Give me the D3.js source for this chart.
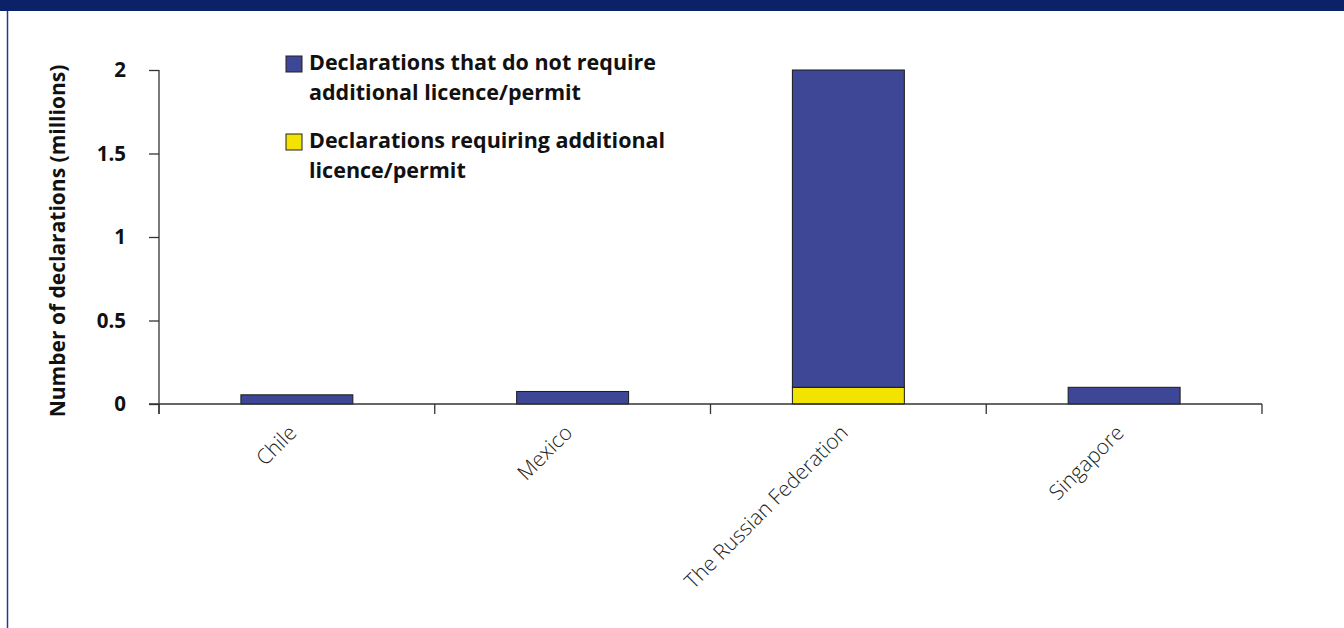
<!DOCTYPE html>
<html><head><meta charset="utf-8">
<script src="https://cdn.jsdelivr.net/npm/d3@7"></script>
<style>
html,body{margin:0;padding:0;background:#fff;}
svg{display:block;}
</style></head>
<body>
<svg id="chart" width="1344" height="628"></svg>
<script>
const categories = ["Chile", "Mexico", "The Russian Federation", "Singapore"];
const notRequiring = [0.055, 0.075, 1.9, 0.1];
const requiring = [0, 0, 0.1, 0];
const seriesNames = ["Declarations that do not require additional licence/permit", "Declarations requiring additional licence/permit"];
const yTicks = [0, 0.5, 1, 1.5, 2];
const yTickLabels = ["0", "0.5", "1", "1.5", "2"];
const yTitle = "Number of declarations (millions)";

const svg = d3.select("#chart");
const W = 1344, H = 628;
const colBlue = "#3d4795", colYellow = "#f2e300";
const FONT = "'Open Sans', sans-serif";

// header bar and left frame
svg.append("rect").attr("x", 0).attr("y", 0).attr("width", W).attr("height", 11).attr("fill", "#0b2269");
svg.append("line").attr("x1", 7.5).attr("x2", 7.5).attr("y1", 11).attr("y2", H).attr("stroke", "#2a3590").attr("stroke-width", 1.5);

const x = d3.scaleBand().domain(categories).range([159, 1262]).paddingInner(0.594).paddingOuter(0.297);
const y = d3.scaleLinear().domain([0, 2]).range([404, 70]);

const stackData = categories.map((c, i) => ({cat: c, a: requiring[i], b: notRequiring[i]}));
const stack = d3.stack().keys(["a", "b"])(stackData);
const colors = {a: colYellow, b: colBlue};

const g = svg.append("g");
stack.forEach(layer => {
  g.selectAll(null).data(layer.filter(d => d[1] - d[0] > 0)).enter().append("rect")
    .attr("x", d => x(d.data.cat))
    .attr("width", x.bandwidth())
    .attr("y", d => y(d[1]))
    .attr("height", d => y(d[0]) - y(d[1]))
    .attr("fill", colors[layer.key])
    .attr("stroke", "#1a1a1a").attr("stroke-width", 1);
});

// y axis
const yAxis = d3.axisLeft(y).tickValues(yTicks).tickFormat((d, i) => yTickLabels[i]).tickSize(10).tickPadding(23);
const ya = svg.append("g").attr("transform", "translate(159,0)").call(yAxis);
ya.select(".domain").remove();
ya.append("line").attr("x1", 0).attr("x2", 0).attr("y1", 70).attr("y2", 414).attr("stroke", "#333").attr("stroke-width", 1.3);
ya.selectAll(".tick line").attr("stroke", "#333").attr("stroke-width", 1.3);
ya.selectAll(".tick text").attr("font-family", FONT).attr("font-weight", "bold").attr("font-size", "20.5px").attr("fill", "#111");

// x axis line & ticks
const xa = svg.append("g");
xa.append("line").attr("x1", 149).attr("x2", 1262).attr("y1", 404).attr("y2", 404).attr("stroke", "#333").attr("stroke-width", 1.3);
const step = x.step();
const bounds = [159].concat(categories.map(c => x(c) + x.bandwidth() / 2 + step / 2));
xa.selectAll(null).data(bounds).enter().append("line")
  .attr("x1", d => d).attr("x2", d => d).attr("y1", 404).attr("y2", 414)
  .attr("stroke", "#333").attr("stroke-width", 1.3);
xa.selectAll(null).data(categories).enter().append("text")
  .attr("transform", d => `translate(${x(d) + x.bandwidth() / 2 + 1},${434}) rotate(-45)`)
  .attr("text-anchor", "end")
  .attr("font-family", FONT).attr("font-weight", 300).attr("font-size", "21px").attr("fill", "#222")
  .text(d => d);

// y title
svg.append("text").attr("transform", "translate(65,241) rotate(-90)").attr("text-anchor", "middle")
  .attr("font-family", FONT).attr("font-weight", "bold").attr("font-size", "21px").attr("fill", "#111")
  .text(yTitle);

// legend
const legendLines = [["Declarations that do not require", "additional licence/permit"], ["Declarations requiring additional", "licence/permit"]];
const legCols = [colBlue, colYellow];
const leg = svg.append("g");
legendLines.forEach((lines, i) => {
  const y0 = 56 + i * 78;
  leg.append("rect").attr("x", 286).attr("y", y0).attr("width", 16).attr("height", 16).attr("fill", legCols[i]).attr("stroke", "#222").attr("stroke-width", 1);
  const t = leg.append("text").attr("x", 309).attr("y", y0 + 14)
    .attr("font-family", FONT).attr("font-weight", "bold").attr("font-size", "21.5px").attr("fill", "#111");
  lines.forEach((l, j) => t.append("tspan").attr("x", 309).attr("dy", j === 0 ? 0 : 30).text(l));
});
</script>
</body></html>
